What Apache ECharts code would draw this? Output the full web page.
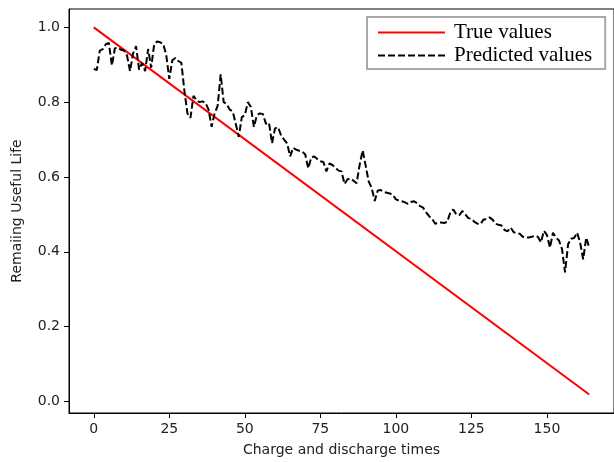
<!DOCTYPE html>
<html>
<head>
<meta charset="utf-8">
<script src="https://cdn.jsdelivr.net/npm/echarts@6/dist/echarts.min.js"></script>
<style>html,body{margin:0;padding:0;background:#fff;}#c{width:614px;height:462px;}</style>
</head>
<body>
<div id="c"></div>
<script>
const xTicks = [0, 25, 50, 75, 100, 125, 150];
const yTicks = [0.0, 0.2, 0.4, 0.6, 0.8, 1.0];
const trueX = [0, 164];
const trueY = [1.0, 0.0185];
const predicted = [
0.889,0.886,0.938,0.942,0.955,0.958,0.898,0.944,0.946,0.940,
0.938,0.925,0.883,0.930,0.950,0.887,0.905,0.883,0.942,0.892,
0.955,0.962,0.960,0.955,0.925,0.862,0.912,0.918,0.910,0.905,
0.830,0.770,0.758,0.817,0.805,0.800,0.802,0.798,0.780,0.734,
0.770,0.790,0.874,0.800,0.795,0.780,0.775,0.742,0.707,0.760,
0.765,0.800,0.787,0.734,0.765,0.770,0.768,0.742,0.745,0.690,
0.730,0.733,0.711,0.700,0.690,0.655,0.678,0.673,0.670,0.668,
0.660,0.623,0.652,0.655,0.648,0.642,0.640,0.615,0.636,0.632,
0.625,0.617,0.615,0.581,0.594,0.596,0.590,0.583,0.632,0.671,
0.630,0.588,0.570,0.536,0.564,0.565,0.560,0.558,0.556,0.552,
0.540,0.537,0.535,0.532,0.528,0.533,0.535,0.530,0.522,0.518,
0.505,0.495,0.488,0.475,0.478,0.478,0.477,0.480,0.505,0.513,
0.500,0.498,0.509,0.500,0.490,0.488,0.480,0.475,0.474,0.486,
0.487,0.492,0.486,0.475,0.472,0.470,0.458,0.455,0.465,0.452,
0.450,0.448,0.440,0.438,0.438,0.440,0.443,0.440,0.425,0.456,
0.445,0.411,0.451,0.438,0.430,0.407,0.345,0.420,0.435,0.437,
0.451,0.424,0.380,0.438,0.411
];

const chart = echarts.init(document.getElementById('c'), null, {renderer: 'canvas'});
const axisFont = {fontFamily: 'DejaVu Sans', fontSize: 14, color: '#222'};
chart.setOption({
  animation: false,
  backgroundColor: '#fff',
  grid: {left: 69, top: 9, width: 546, height: 408, show: true, borderColor: '#000', borderWidth: 1, containLabel: false},
  xAxis: {
    type: 'value', min: -8.2, max: 172.2,
    name: 'Charge and discharge times', nameLocation: 'middle', nameGap: 30,
    nameTextStyle: axisFont,
    axisLine: {show: true, onZero: false, lineStyle: {color: '#000', width: 1}},
    axisTick: {show: true, length: 5, lineStyle: {color: '#000'}, customValues: xTicks},
    axisLabel: Object.assign({margin: 9, customValues: xTicks, formatter: v => String(v)}, axisFont),
    splitLine: {show: false}
  },
  yAxis: {
    type: 'value', min: -0.031, max: 1.049,
    name: 'Remaiing Useful Life', nameLocation: 'middle', nameGap: 45,
    nameTextStyle: axisFont,
    axisLine: {show: true, onZero: false, lineStyle: {color: '#000', width: 1}},
    axisTick: {show: true, length: 5, lineStyle: {color: '#000'}, customValues: yTicks},
    axisLabel: Object.assign({margin: 9, customValues: yTicks, formatter: v => v.toFixed(1)}, axisFont),
    splitLine: {show: false}
  },
  legend: {
    orient: 'vertical', left: 367, top: 17,
    padding: [5, 13, 3, 10], itemGap: 2,
    itemWidth: 67, itemHeight: 14,
    borderColor: '#a8a8a8', borderWidth: 2,
    backgroundColor: '#fff',
    itemStyle: {opacity: 0},
    lineStyle: {inactiveWidth: 2},
    textStyle: {fontFamily: 'Liberation Serif', fontSize: 21, color: '#000', padding: [0, 0, 0, 4]},
    data: ['True values', 'Predicted values']
  },
  series: [
    {
      name: 'True values', type: 'line', symbol: 'none',
      data: trueX.map((x, i) => [x, trueY[i]]),
      lineStyle: {color: '#ff0000', width: 2},
      itemStyle: {color: '#ff0000'}
    },
    {
      name: 'Predicted values', type: 'line', symbol: 'none',
      data: predicted.map((v, i) => [i, v]),
      lineStyle: {color: '#000', width: 2, type: [7, 3]},
      itemStyle: {color: '#000'}
    }
  ]
});
</script>
</body>
</html>
